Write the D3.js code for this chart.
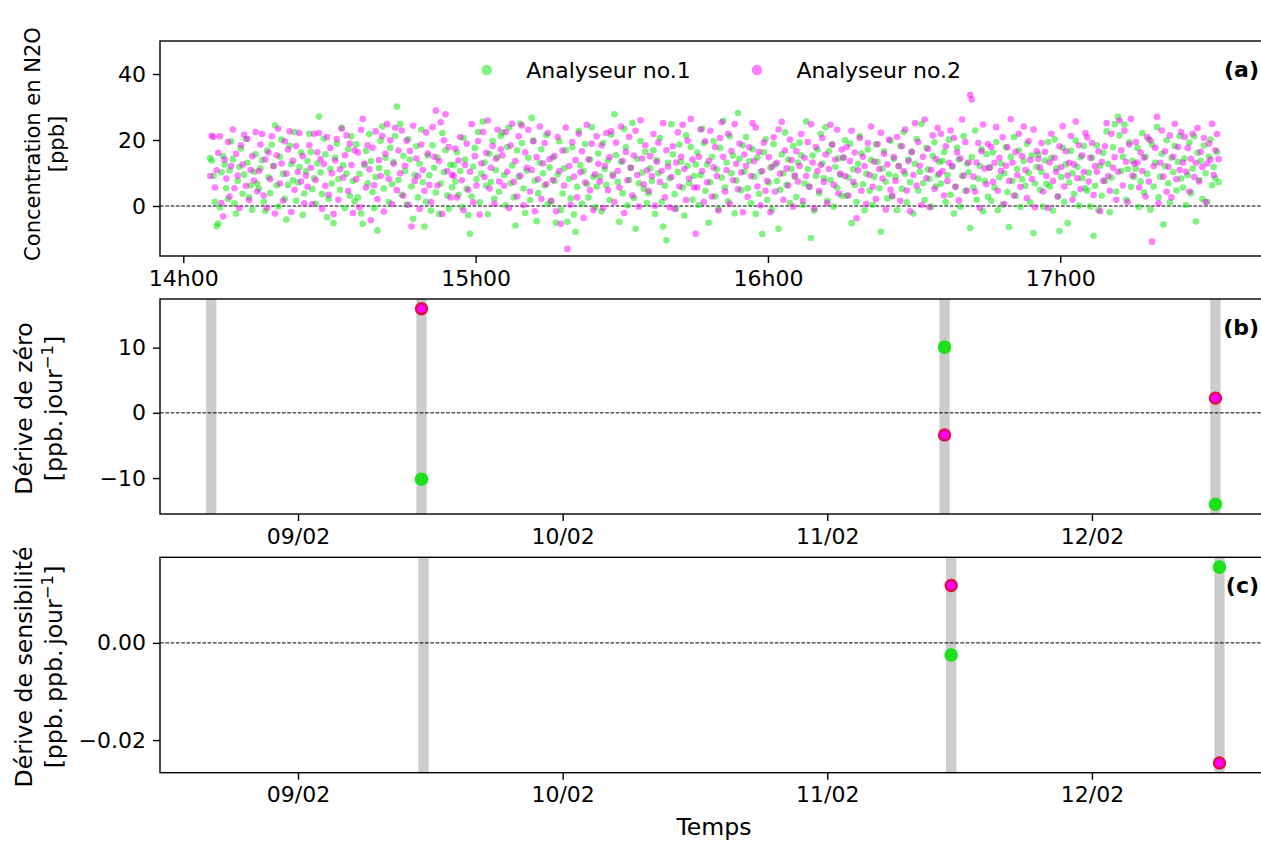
<!DOCTYPE html>
<html>
<head>
<meta charset="utf-8">
<script src="https://cdn.jsdelivr.net/npm/d3@7"></script>
<style>
  html, body { margin: 0; padding: 0; background: #fff; }
  svg { display: block; font-family: "DejaVu Sans", sans-serif; }
</style>
</head>
<body>
<svg id="chart" width="1261" height="841"></svg>
<script>
// ---------- Panel (a): N2O concentration, one reading every 20 s ----------
const sampleStart = new Date(2022, 1, 12, 14, 5, 30);
const sampleStepSec = 20;

// one row = 10 minutes of readings
const analyser1 = [
  14.5, 13.8, 9.1, 1.2, -6.1, -5.3, -0.4, 10.2, 15.1, 12.6, 5.4, 2.1, 10.8, 19.6, 14.2, 0.8, -2.3, 7.6, 11.9, 17.4, 3.7, 9.5, 20.3, 13.1, 2.6, 6.2, -1.1, 10.4, 15.7, 6.8,
  5.2, 11.4, 13.9, 1.3, -1.5, 16.8, 8.7, 3.9, 18.6, 12.1, 24.4, 6.3, -0.2, 14.9, 20.1, 9.8, 2.2, -4.1, 6.4, 18.3, 12.7, 7.9, 22.4, 1.6, 7.1, 11.8, 16.2, -2.7, 3.8, 10.5,
  13.6, 21.9, 16.4, 5.1, 8.4, 0.7, 12.9, 27.1, 10.2, 3.6, 20.4, 15.7, -3.4, 2.2, 11.3, 6.8, -5.2, 14.6, 18.9, 8.2, 4.9, 23.7, 12.3, -0.6, 9.8, 17.2, 3.1, 21.1, 7.6, 1.4,
  18.7, 2.6, 9.7, -2.3, -5.4, 12.4, 16.7, 6.9, 21.8, 13.6, 4.2, -0.6, 8.8, -7.4, 11.5, 19.8, 24.1, 5.3, 14.6, 10.1, 1.2, 17.6, 6.6, 13.3, 21.2, 30.1, 7.9, 24.8, 3.4, 15.2,
  10.6, 0.4, 20.2, 14.1, 5.9, -3.9, 9.4, 18.1, 2.6, 12.8, 23.1, 7.2, -6.2, 1.3, 15.3, 9.3, -1.4, 18.4, 11.6, 4.1, 14.7, -2.4, 6.8, 22.1, 10.3, 16.9, 3.2, -0.8, 12.5, 5.7,
  12.4, 7.4, 16.3, 3.4, 10.6, -0.3, 20.6, 14.1, 5.2, -2.8, -8.4, 2.9, 11.9, 17.6, 8.1, 22.4, 1.1, 9.8, 25.6, 13.2, 6.1, -2.5, 15.8, 7.3, 19.7, 2.2, 10.9, 14.8, 4.3, 21.2,
  22.3, 9.4, 0.2, 17.9, 23.8, 6.9, 12.3, 2.6, -5.9, 16.8, 8.9, 24.9, 19.1, 5.3, -2.1, 10.7, 14.6, 1.8, 26.7, 19.8, 7.7, -4.6, 3.9, 13.1, 17.2, 9.9, 6.3, 21.5, 0.6, 11.7,
  1.4, 14.7, 7.6, -5.1, 9.6, 19.6, -1.2, 3.8, 11.4, 16.9, -4.8, 8.2, 2.3, 17.9, -2.6, -7.8, 5.8, 22.7, 12.4, 0.7, 10.6, 18.8, 6.7, 2.6, 14.1, 23.9, 8.9, -0.4, 5.9, 15.9,
  8.9, -1.6, 19.1, 11.2, 6.4, 13.8, 1.8, 21.6, 9.6, 27.8, 15.4, 7.3, -4.8, 13.4, 3.9, 23.4, 17.8, 0.2, 7.9, 11.6, 25.2, 2.4, -6.9, 14.3, 6.9, 19.7, 10.1, 5.2, 16.4, 0.9,
  3.9, 11.4, 7.6, 16.9, -2.4, 13.9, 9.9, 20.6, 1.3, -6.2, 6.1, -10.4, 13.1, 8.4, 24.8, 15.7, 3.6, -0.8, 10.3, 18.6, 13.4, 5.6, -2.9, 21.4, 12.1, 6.9, 17.9, 1.9, 9.1, 12.6,
  16.2, 0.3, 9.4, 23.4, 19.1, 4.6, 12.6, -5.1, 7.2, 14.9, 19.7, 2.9, 11.1, -0.9, 17.6, 8.6, 25.8, 5.6, 13.2, 1.4, 21.1, 9.9, 15.3, -2.2, 7.7, 28.2, 14.3, 4.8, 18.4, 10.4,
  20.9, 5.4, 13.6, 0.8, 17.2, 8.9, -2.4, 14.6, 3.7, 10.4, -8.5, 16.3, 20.2, 1.8, 7.1, 11.6, -1.1, 18.7, 12.6, 7.6, -6.9, 4.9, 15.7, 9.9, 22.3, 6.4, 14.1, 0.9, 11.2, 18.2,
  8.9, 2.7, 13.2, 19.2, 15.4, 0.4, 6.8, 25.6, 11.2, 5.9, -9.7, 15.3, -1.4, 9.1, 17.1, 3.9, 21.8, 12.9, 8.4, 23.9, 1.6, 16.6, 7.9, 18.6, -0.2, 11.8, 5.6, 14.4, 9.4, 3.1,
  14.6, 19.9, 3.1, 8.6, 18.9, -5.2, 11.1, 6.4, 1.2, 12.8, 21.1, 15.9, 6.6, -1.3, 9.8, 17.1, 4.6, 13.9, 0.4, 8.9, 18.7, 13.4, 5.4, -7.8, 11.3, 16.6, 7.4, 2.3, 9.6, 19.8,
  2.9, 14.3, 8.9, -1.3, 12.1, 18.2, 5.2, 22.4, 9.8, 1.1, 14.1, 7.2, 16.4, -2.3, 12.8, 20.3, 4.7, 10.4, 24.9, 6.9, 1.8, 17.6, 11.1, 8.2, -0.2, 15.1, 19.3, 5.9, 9.3, 13.4,
  6.8, 13.6, 16.4, 1.2, 9.4, 20.1, 3.4, 11.9, -2.3, 5.8, 17.6, 14.1, -0.2, 9.1, 21.2, 4.6, 12.9, 10.2, -6.7, 14.8, 5.6, 22.9, 1.9, 8.3, 12.1, 17.2, -1.6, 7.6, 15.7, 2.8,
  11.7, 1.6, 16.2, 5.6, 19.4, -1.3, 8.7, 12.9, 0.4, 9.9, 17.8, 4.2, -6.4, 14.9, 7.6, 20.9, 3.1, 11.2, 16.8, -0.3, 8.1, 13.6, 6.1, 18.9, 10.1, 1.1, 15.3, -8.2, 6.8, 11.8,
  15.6, 4.9, 10.3, -0.2, 13.8, 6.7, 19.4, 5.9, 14.6, -1.4, 20.2, 11.4, 2.9, -7.6, 8.8, 17.6, 1.3, 12.6, -5.2, 7.1, 16.7, 9.9, 3.6, 19.8, 11.9, 0.1, 14.8, 8.4, 18.2, 5.4,
  4.6, 10.1, -0.1, 14.6, -9.0, 6.1, 18.4, -1.2, 12.2, 3.1, 16.1, 7.6, 22.6, 12.7, -1.9, 8.6, 17.8, 24.8, 4.4, 27.0, 21.4, 10.6, 14.9, 24.7, 1.9, 11.2, 19.3, 5.8, 13.7, 8.9,
  11.3, 17.6, -0.3, 7.4, 22.1, 4.1, 14.9, 9.8, 20.2, -1.1, 18.6, 5.9, 13.1, 23.9, 2.6, 8.9, 15.8, -5.6, 12.1, 19.9, 6.9, 1.1, 14.6, 10.3, 18.2, 4.7, 13.4, 21.2, 8.3, 5.6,
  14.4, 0.3, 9.3, 19.2, 3.9, 11.3, 21.1, -4.7, 16.1, 7.9, 13.6, 2.1, 18.3, 9.9, 1.2, 14.9, 20.1, 6.3, 11.8, 8.4, 16.4, 7.2
];

const analyser2 = [
  9.1, 21.3, 20.9, 5.6, 10.8, 16.1, 21.1, 0.9, -3.2, 14.1, 8.3, 19.4, 2.9, 12.1, 23.2, 5.4, 15.8, 9.2, -0.6, 18.4, 12.6, 21.6, 6.1, 20.3, 1.8, 10.9, 15.1, 7.7, 22.4, 4.4,
  10.6, 18.6, 21.8, 3.2, 14.1, -0.6, 16.2, 8.1, 21.1, 12.1, -2.3, 15.4, 23.4, 6.8, 12.9, 1.6, 19.6, 9.8, 17.1, 22.6, -1.8, 13.7, 4.9, 18.2, 10.3, 22.1, 7.4, 15.1, 0.8, 9.2,
  5.8, 18.4, 11.6, 0.6, 21.9, 7.9, 16.3, 22.1, 14.2, -0.8, 12.7, 6.1, 20.9, 3.4, 17.6, 9.9, -2.4, 13.8, 20.3, 1.9, 11.1, 23.4, 8.6, 15.4, 21.4, 4.6, 18.9, 12.4, -2.1, 16.9,
  8.1, 16.2, -0.4, 23.1, 26.4, 12.9, 5.6, 18.4, 11.1, -4.3, 17.6, 6.3, 22.6, 2.1, 13.9, 9.1, 21.2, -1.7, 15.8, 24.8, 8.2, 19.9, 0.6, 12.8, 23.7, 4.8, 16.8, 9.9, 22.9, 3.1,
  12.2, 19.8, 0.4, 16.7, -6.2, 24.3, 7.6, 14.4, 9.1, -0.9, 18.6, 10.9, 4.6, 22.3, 15.9, 6.4, 1.2, 23.9, 14.9, 28.9, 6.2, 13.6, 25.4, -2.4, 19.9, 27.8, 10.6, 17.9, 2.6, 9.4,
  9.2, 17.4, 2.6, 13.8, 20.9, 7.8, -1.3, 12.4, 18.9, 4.9, 10.4, 24.8, 1.1, 15.1, 6.2, 19.7, -2.6, 12.9, 22.4, 8.8, 16.1, 25.9, 5.3, 11.6, 18.2, 0.7, 14.3, 23.1, 7.4, 17.2,
  15.4, 6.1, 22.4, 10.4, -0.6, 18.3, 24.9, 7.3, 13.6, 2.9, 21.1, 9.2, 24.4, 0.2, 16.3, 11.6, 23.1, 4.4, 10.9, 19.6, -1.6, 14.8, 8.1, 24.1, 2.1, 12.9, 19.1, 6.6, 22.1, 14.2,
  1.6, 7.9, 15.1, -1.6, 20.9, 10.6, -5.4, 16.8, 6.2, 23.8, -13.0, 12.1, 0.4, 19.4, 8.9, 13.9, 2.6, 21.9, 10.3, 16.6, -3.6, 7.1, 24.6, 14.1, 4.8, 18.9, -1.2, 9.6, 21.1, 12.8,
  7.4, 18.4, -0.6, 12.1, 22.1, 4.8, 14.8, 22.6, 9.1, 1.2, 19.2, 10.6, 5.6, 24.1, 13.6, -2.1, 16.4, 7.8, 20.9, 11.6, 3.2, 15.3, 22.8, 9.4, -0.2, 26.0, 14.4, 6.6, 18.4, 10.8,
  4.6, 15.1, 9.1, 21.8, 0.1, 13.4, 19.2, 7.3, 10.6, 25.1, 2.6, 16.9, 11.9, -0.4, 8.8, 18.1, -0.9, 13.2, 22.3, 5.9, 14.9, 24.6, 11.2, 1.8, 19.8, 8.3, 26.4, 14.1, 5.6, -8.4,
  5.6, 14.9, 23.2, 10.6, 1.2, 19.6, 7.2, 13.6, 22.8, 2.9, 11.7, 17.9, 9.1, -1.4, 20.6, 25.4, 14.9, 4.4, 10.9, 21.9, 0.7, 16.7, 7.8, 24.8, 12.8, 5.1, 18.9, 10.2, -1.9, 15.6,
  12.1, 2.8, 17.8, 9.1, 25.1, 13.6, 23.8, 5.9, 16.4, 0.2, 10.6, 19.2, 4.6, 7.6, 14.8, -1.9, 11.9, 20.8, 4.4, 13.1, 23.2, 9.8, 25.5, 1.9, 16.8, 11.4, 6.2, 20.1, 13.9, -0.2,
  9.2, 16.6, 7.4, 12.1, 21.8, 1.6, 14.6, 9.1, 19.4, 5.8, 24.8, 13.2, -0.8, 17.9, 10.6, 4.6, 12.4, 20.6, 7.3, 15.6, 0.8, 11.2, 24.6, 18.6, 6.4, 14.1, 23.1, 3.8, 9.8, 17.1,
  14.7, 9.1, 17.9, 3.2, 13.6, 22.8, 7.3, 16.2, -3.7, 10.8, 20.6, 4.6, 14.9, 12.1, 0.6, 19.1, 9.4, 24.1, 5.8, 13.4, 2.1, 18.7, 11.2, 22.2, 8.3, 15.8, -1.1, 12.6, 20.1, 4.9,
  3.1, 14.8, 7.6, 20.9, 12.1, 1.6, 18.1, 10.6, 23.2, 4.7, 13.6, -1.6, 16.4, 9.4, 25.1, 6.2, 19.4, 12.2, 0.3, 14.9, 26.2, 8.4, 17.3, -0.4, 10.9, 21.4, 5.2, 14.2, 23.6, 9.8,
  21.9, 10.6, 3.2, 18.1, 7.6, 13.1, 22.9, 12.1, 20.6, 5.8, 16.2, 1.7, 14.4, 26.2, 9.2, 19.4, 4.6, 13.2, 33.6, 32.3, 8.9, 4.4, 13.2, 19.1, -0.6, 16.6, 24.7, 11.4, 6.6, 18.8,
  11.6, 17.9, 7.3, 13.1, 23.9, 4.6, 14.6, 10.6, 20.8, 0.6, 12.2, 17.8, 7.6, 26.3, 13.1, 3.2, 16.4, 9.3, 21.9, 5.8, 15.1, 24.1, 10.9, 2.4, 19.7, 13.9, 8.2, 23.2, -0.4, 16.6,
  14.3, 11.7, 19.1, 4.4, 16.4, 9.1, -0.6, 13.2, 21.9, 7.6, 14.6, 10.4, 2.9, 18.1, 11.8, 24.2, 5.9, 16.6, 9.2, 13.1, 21.2, 1.9, 12.6, 25.6, 8.4, 18.4, 5.1, 15.4, 10.3, 22.1,
  20.8, 7.4, 14.6, 19.1, 3.3, 12.1, 10.4, 16.6, -1.6, 13.3, 7.6, 18.1, 25.1, 9.1, 4.6, 21.9, 11.6, 14.8, 1.9, 10.4, 25.9, 16.9, 6.2, 22.8, 13.4, 1.2, 18.6, 26.4, 9.2, 12.8,
  19.4, 13.2, 5.6, 16.2, 10.6, 14.6, 2.9, 20.9, 7.4, 19.9, -10.8, 12.1, 17.6, 27.0, 0.8, 13.1, 22.9, 8.9, 16.6, 4.3, 11.9, 21.4, 2.6, 14.9, 24.9, 8.1, 17.9, 10.9, 22.4, 13.2,
  20.9, 10.4, 17.6, 4.4, 14.3, 21.9, 8.8, 13.1, 23.6, 7.4, 16.4, 11.8, 20.6, 1.2, 12.9, 18.9, 14.1, 24.9, 9.4, 16.9, 21.8, 14.2
];

const seriesNames = ["Analyseur no.1", "Analyseur no.2"];
const concTicks = [0, 20, 40];
const hourTicks = [14, 15, 16, 17];

// ---------- Panels (b) and (c): drifts computed at each calibration ----------
// calibration periods [start, end]
const zeroCalibrations = [
  [new Date(2022, 1, 8, 15, 40), new Date(2022, 1, 8, 16, 36)],
  [new Date(2022, 1, 9, 10, 44), new Date(2022, 1, 9, 11, 40)],
  [new Date(2022, 1, 11, 10, 10), new Date(2022, 1, 11, 11, 6)],
  [new Date(2022, 1, 12, 10, 44), new Date(2022, 1, 12, 11, 40)]
];
const spanCalibrations = [
  [new Date(2022, 1, 9, 10, 55), new Date(2022, 1, 9, 11, 51)],
  [new Date(2022, 1, 11, 10, 46), new Date(2022, 1, 11, 11, 42)],
  [new Date(2022, 1, 12, 11, 6), new Date(2022, 1, 12, 12, 2)]
];

const zeroDriftTimes = [new Date(2022, 1, 9, 11, 12), new Date(2022, 1, 11, 10, 38), new Date(2022, 1, 12, 11, 12)];
const zeroDrift1 = [-10.18, 10.08, -14.01];
const zeroDrift2 = [15.96, -3.38, 2.26];

const spanDriftTimes = [new Date(2022, 1, 11, 11, 14), new Date(2022, 1, 12, 11, 34)];
const spanDrift1 = [-0.0025, 0.0156];
const spanDrift2 = [0.0118, -0.0247];

const dayTicks = [new Date(2022, 1, 9), new Date(2022, 1, 10), new Date(2022, 1, 11), new Date(2022, 1, 12)];
const zeroTicks = [-10, 0, 10];
const spanTicks = [-0.02, 0.00];

// ---------- layout ----------
const FONT = 22;        // ticks and legend
const LABEL_FONT = 23.6; // axis titles
const left = 160, right = 1268;
const panelA = { top: 41, bottom: 256 };
const panelB = { top: 299, bottom: 514 };
const panelC = { top: 557.3, bottom: 772.7 };

const col1 = "rgb(0,230,0)";
const col1Solid = "rgb(28,226,28)";
const col2 = "#ff00ff";
const edge2 = "#e2103c";
const bandColor = "#cccccc";

const svg = d3.select("#chart");

function padded(vals) {
  const lo = d3.min(vals), hi = d3.max(vals), m = (hi - lo) * 0.05;
  return [lo - m, hi + m];
}

function styleAxis(g) {
  g.select(".domain").remove();
  g.selectAll(".tick line").attr("stroke", "#000").attr("stroke-width", 1.4);
  g.selectAll(".tick text").attr("fill", "#000").attr("font-size", FONT)
    .attr("font-family", "DejaVu Sans, sans-serif");
}

function frame(p) {
  svg.append("rect").attr("x", left).attr("y", p.top)
    .attr("width", right - left).attr("height", p.bottom - p.top)
    .attr("fill", "none").attr("stroke", "#000").attr("stroke-width", 1.4);
}

function zeroLine(y) {
  svg.append("line").attr("x1", left).attr("x2", right)
    .attr("y1", y(0)).attr("y2", y(0))
    .attr("stroke", "#000").attr("stroke-width", 1).attr("stroke-dasharray", "3.7,1.6");
}

function panelTag(p, t) {
  svg.append("text").attr("x", 1259).attr("y", p.top + 36)
    .attr("text-anchor", "end").attr("font-weight", "bold").attr("font-size", 22)
    .text(t);
}

function yLabel(cy, size, line1, line2, x1, x2, sup) {
  svg.append("text").attr("transform", `translate(${x1},${cy}) rotate(-90)`)
    .attr("text-anchor", "middle").attr("font-size", size).text(line1);
  const t = svg.append("text").attr("transform", `translate(${x2},${cy}) rotate(-90)`)
    .attr("text-anchor", "middle").attr("font-size", size);
  if (sup) {
    t.append("tspan").text(line2);
    t.append("tspan").attr("dy", -9).attr("font-size", size * 0.7).text("\u22121");
    t.append("tspan").attr("dy", 9).text("]");
  } else {
    t.text(line2);
  }
}

// ---------- panel (a) ----------
const timeAt = i => new Date(sampleStart.getTime() + i * sampleStepSec * 1000);
const xA = d3.scaleTime()
  .domain([new Date(2022, 1, 12, 13, 55, 13), new Date(2022, 1, 12, 17, 42, 38)])
  .range([left, right]);
const yA = d3.scaleLinear().domain([-15.15, 50]).range([panelA.bottom, panelA.top]);

zeroLine(yA);

const gA = svg.append("g");
gA.append("g").selectAll("circle").data(analyser1).join("circle")
  .attr("cx", (d, i) => xA(timeAt(i))).attr("cy", d => yA(d)).attr("r", 3.3)
  .attr("fill", col1).attr("fill-opacity", 0.5);
gA.append("g").selectAll("circle").data(analyser2).join("circle")
  .attr("cx", (d, i) => xA(timeAt(i))).attr("cy", d => yA(d)).attr("r", 3.3)
  .attr("fill", col2).attr("fill-opacity", 0.5);

svg.append("g").attr("transform", `translate(0,${panelA.bottom})`)
  .call(d3.axisBottom(xA).tickValues(hourTicks.map(h => new Date(2022, 1, 12, h, 0)))
    .tickFormat(d3.timeFormat("%Hh%M")).tickSize(7).tickPadding(7))
  .call(styleAxis);
svg.append("g").attr("transform", `translate(${left},0)`)
  .call(d3.axisLeft(yA).tickValues(concTicks).tickFormat(d3.format("d")).tickSize(7).tickPadding(7))
  .call(styleAxis);
frame(panelA);

// legend
const legend = svg.append("g");
[[486.7, col1], [757, col2]].forEach(([lx, c], i) => {
  legend.append("circle").attr("cx", lx).attr("cy", 70).attr("r", 5.3)
    .attr("fill", c).attr("fill-opacity", 0.5);
  legend.append("text").attr("x", lx + 39.5).attr("y", 77.5)
    .attr("font-size", FONT).text(seriesNames[i]);
});

panelTag(panelA, "(a)");
yLabel(144, 21, "Concentration en N2O", "[ppb]", 40, 64, false);

// ---------- panels (b) and (c) ----------
const xD = d3.scaleTime()
  .domain([new Date(2022, 1, 8, 11, 29), new Date(2022, 1, 12, 15, 58)])
  .range([left, right]);

function driftPanel(p, bands, t, v1, v2, ticks, fmt, tag, l1, l2) {
  const y = d3.scaleLinear().domain(padded(v1.concat(v2))).range([p.bottom, p.top]);
  svg.append("g").selectAll("rect").data(bands).join("rect")
    .attr("x", d => xD(d[0])).attr("width", d => xD(d[1]) - xD(d[0]))
    .attr("y", p.top).attr("height", p.bottom - p.top).attr("fill", bandColor);
  zeroLine(y);
  svg.append("g").selectAll("circle").data(v1).join("circle")
    .attr("cx", (d, i) => xD(t[i])).attr("cy", d => y(d)).attr("r", 6.8)
    .attr("fill", col1Solid);
  svg.append("g").selectAll("circle").data(v2).join("circle")
    .attr("cx", (d, i) => xD(t[i])).attr("cy", d => y(d)).attr("r", 5.5)
    .attr("fill", col2).attr("stroke", edge2).attr("stroke-width", 2.4);
  svg.append("g").attr("transform", `translate(0,${p.bottom})`)
    .call(d3.axisBottom(xD).tickValues(dayTicks).tickFormat(d3.timeFormat("%d/%m")).tickSize(7).tickPadding(7))
    .call(styleAxis);
  svg.append("g").attr("transform", `translate(${left},0)`)
    .call(d3.axisLeft(y).tickValues(ticks).tickFormat(d3.format(fmt)).tickSize(7).tickPadding(7))
    .call(styleAxis);
  frame(p);
  panelTag(p, tag);
  yLabel((p.top + p.bottom) / 2 + 2, LABEL_FONT, l1, l2, 32, 61.5, true);
}

driftPanel(panelB, zeroCalibrations, zeroDriftTimes, zeroDrift1, zeroDrift2, zeroTicks, "d", "(b)",
  "Dérive de zéro", "[ppb.\u2009jour");
driftPanel(panelC, spanCalibrations, spanDriftTimes, spanDrift1, spanDrift2, spanTicks, ".2f", "(c)",
  "Dérive de sensibilité", "[ppb.\u2009ppb.\u2009jour");

svg.append("text").attr("x", (left + right) / 2).attr("y", 835)
  .attr("text-anchor", "middle").attr("font-size", LABEL_FONT).text("Temps");
</script>
</body>
</html>
